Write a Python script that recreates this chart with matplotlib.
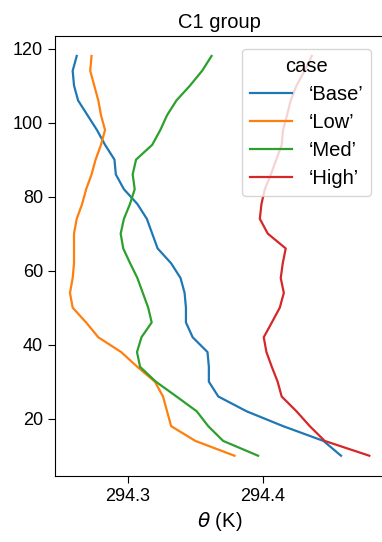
import numpy as np
import matplotlib
matplotlib.use("Agg")
import matplotlib.pyplot as plt

plt.rcParams['font.family'] = ['Liberation Sans', 'DejaVu Sans']
plt.rcParams['font.size'] = 13

# heights (m)
z = [118, 114, 110, 106, 102, 98, 94, 90, 86, 82, 78, 74, 70, 66,
     62, 58, 54, 50, 46, 42, 38, 34, 30, 26, 22, 18, 14, 10]

# potential temperature profiles (K)
theta_base = [294.262, 294.259, 294.260, 294.263, 294.270, 294.277, 294.283,
              294.290, 294.291, 294.297, 294.307, 294.314, 294.318, 294.322,
              294.332, 294.339, 294.342, 294.343, 294.343, 294.348, 294.359,
              294.360, 294.360, 294.367, 294.388, 294.415, 294.445, 294.458]
theta_low = [294.273, 294.272, 294.275, 294.278, 294.280, 294.283, 294.280,
             294.276, 294.273, 294.269, 294.266, 294.262, 294.260, 294.260,
             294.260, 294.259, 294.257, 294.259, 294.269, 294.278, 294.295,
             294.307, 294.320, 294.326, 294.329, 294.332, 294.350, 294.379]
theta_med = [294.362, 294.355, 294.346, 294.336, 294.329, 294.324, 294.318,
             294.306, 294.3035, 294.305, 294.3015, 294.297, 294.2946, 294.2965,
             294.3016, 294.307, 294.311, 294.315, 294.3176, 294.310, 294.3067,
             294.309, 294.3207, 294.336, 294.351, 294.3595, 294.3706, 294.3965]
theta_high = [294.4363, 294.431, 294.425, 294.4207, 294.418, 294.415, 294.414,
              294.410, 294.406, 294.4015, 294.399, 294.3978, 294.4037, 294.417,
              294.4148, 294.4133, 294.4156, 294.4126, 294.4067, 294.4007, 294.4027,
              294.4067, 294.411, 294.414, 294.425, 294.4348, 294.4459, 294.479]

cases = ["\u2018Base\u2019", "\u2018Low\u2019", "\u2018Med\u2019", "\u2018High\u2019"]
profiles = [theta_base, theta_low, theta_med, theta_high]
colors = ["#1f77b4", "#ff7f0e", "#2ca02c", "#d62728"]

fig = plt.figure(figsize=(3.82, 5.42), dpi=100)
ax = fig.add_axes([0.144, 0.1223, 0.862, 0.8113])

for th, lab, c in zip(profiles, cases, colors):
    ax.plot(th, z, color=c, lw=1.6, label=lab)

ax.set_xticks([294.3, 294.4])
ax.set_xticklabels(["294.3", "294.4"])
ax.set_yticks([20, 40, 60, 80, 100, 120])
ax.tick_params(length=5)
ax.set_title("C1 group", fontsize=14.5)
ax.set_xlabel(r"$\theta$ (K)", fontsize=14.5)
ax.legend(title="case", loc="upper right", handlelength=2.1, fontsize=14.5,
          title_fontsize=14.5, labelspacing=0.45, borderaxespad=0.65)

fig.savefig("out.png", dpi=100)
